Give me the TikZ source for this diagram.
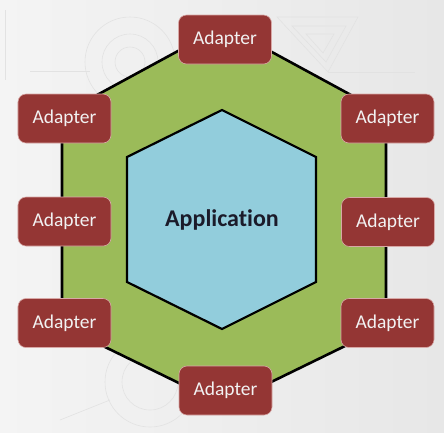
\documentclass[tikz,border=0pt]{standalone}
\usepackage{fontspec}
\setmainfont{Carlito}[Ligatures=NoCommon]
\definecolor{bgL}{HTML}{F4F4F4}
\definecolor{bgR}{HTML}{E7E7E7}
\definecolor{deco}{HTML}{E2E2E2}
\definecolor{hexgreen}{HTML}{9BBB59}
\definecolor{hexblue}{HTML}{92CDDC}
\definecolor{adred}{HTML}{943634}
\definecolor{adedge}{HTML}{D8A8A6}
\definecolor{apptext}{HTML}{1B1B2A}
\begin{document}
\begin{tikzpicture}[x=1bp,y=-1bp,
  adapter/.style={fill=adred, draw=adedge, line width=0.6bp, rounded corners=8bp,
    minimum width=93bp, minimum height=49bp, inner sep=0pt,
    text=white!95!black, font=\fontsize{19.5bp}{22bp}\selectfont},
  decoline/.style={draw=deco, line width=0.6bp}]
\useasboundingbox (0,0) rectangle (444,432);
\shade[left color=bgL, right color=bgR] (0,0) rectangle (444,432);
% faint background decorations
\draw[decoline] (130,62) circle[radius=45];
\draw[decoline] (130,62) circle[radius=28];
\draw[decoline] (130,62) circle[radius=15];
\draw[decoline] (30,71) -- (90,71);
\draw[decoline] (5,10) -- (5,80);
\draw[decoline] (277,17) -- (358,17) -- (328,72) -- cycle;
\draw[decoline] (292,26) -- (346,26) -- (326,62) -- cycle;
\draw[decoline] (306,34) -- (334,34) -- (323,53) -- cycle;
\draw[decoline] (328,72) -- (415,72);
\draw[decoline] (150,382) circle[radius=45];
\draw[decoline] (150,382) circle[radius=28];
\draw[decoline] (60,420) -- (110,400);
% outer hexagon
\draw[fill=hexgreen, line width=2.6bp, line join=miter]
  (224,26) -- (386,114) -- (386,326) -- (224,405) -- (62,326) -- (62,114) -- cycle;
% inner hexagon
\draw[fill=hexblue, line width=2.2bp, line join=miter]
  (222,110) -- (316,157) -- (316,282) -- (222,329) -- (127,282) -- (127,157) -- cycle;
\node[text=apptext, font=\fontsize{24bp}{28bp}\selectfont\bfseries] (app) at (222,220) {Application};
% adapters
\node[adapter] (aT)  at (225,39.5)  {Adapter};
\node[adapter] (aUL) at (64.5,118.5) {Adapter};
\node[adapter] (aUR) at (387.5,118.5) {Adapter};
\node[adapter] (aML) at (64.5,221.5) {Adapter};
\node[adapter] (aMR) at (388,222) {Adapter};
\node[adapter] (aLL) at (64.5,323) {Adapter};
\node[adapter] (aLR) at (387.5,323) {Adapter};
\node[adapter] (aB)  at (225.5,390.5) {Adapter};
\end{tikzpicture}
\end{document}
